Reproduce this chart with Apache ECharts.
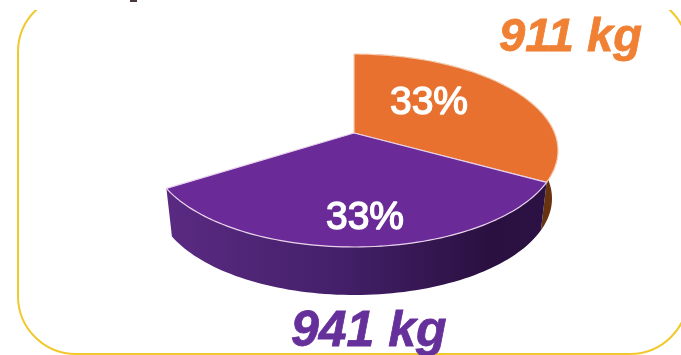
<!DOCTYPE html>
<html>
<head>
<meta charset="utf-8">
<style>html,body{margin:0;padding:0;background:#fff}#c{width:681px;height:355px}</style>
<script src="https://cdn.jsdelivr.net/npm/echarts@6/dist/echarts.min.js"></script>
</head>
<body>
<div id="c"></div>
<script>
const sliceNames = ['Orange', 'Purple', 'Hidden'];
const shares = [33, 33, 34];
const percentLabels = ['33%', '33%', ''];
const weightLabels = ['911 kg', '941 kg'];

const chart = echarts.init(document.getElementById('c'), null, { renderer: 'canvas' });
const total = shares.reduce((a, b) => a + b, 0);

// projected disc: ellipse seen in perspective, apex pushed toward the back
const disc = { cx: 354, cy: 150.5, rx: 204, ry: 96.5, k: 0.181, depth: 48, lowerRx: 198 };
const project = (deg, r, rx, dy) => {
  const t = deg * Math.PI / 180;
  const s = r * Math.sin(t), c = r * Math.cos(t);
  const d = 1 + disc.k * s;
  return [disc.cx + rx * c * Math.sqrt(1 - disc.k * disc.k) / d,
          disc.cy + dy - disc.ry * (s + disc.k) / d];
};
const sweep = (i) => {
  let before = 0;
  for (let j = 0; j < i; j++) before += shares[j];
  const a0 = 90 - before / total * 360;
  return [a0, a0 - shares[i] / total * 360];
};
const arc = (a0, a1, rx, dy) => {
  const pts = [];
  const n = 80;
  for (let i = 0; i <= n; i++) pts.push(project(a0 + (a1 - a0) * i / n, 1, rx, dy));
  return pts;
};

const faceStyles = [
  { fill: '#e8712f', stroke: '#f6cfb4' },
  { fill: '#6a2b98', stroke: '#e9d3ec' }
];
const wallFills = [
  { type: 'linear', x: 0, y: 0, x2: 1, y2: 0, colorStops: [{ offset: 0, color: '#4a2208' }, { offset: 1, color: '#6a3410' }] },
  { type: 'linear', x: 0, y: 0, x2: 1, y2: 0, colorStops: [
    { offset: 0, color: '#5a2a82' }, { offset: 0.45, color: '#44206a' }, { offset: 0.85, color: '#2a1040' }, { offset: 1, color: '#2c1244' }] }
];
const labelSpots = [[429, 103], [365, 218]];

const data = shares.map((v, i) => ({ name: sliceNames[i], value: [i, v] }));

const option = {
  animation: false,
  backgroundColor: '#fff',
  graphic: [
    { type: 'rect', z: 1, shape: { x: 18, y: -6, width: 670, height: 360, r: 58 },
      style: { fill: '#fff', stroke: '#f0c92e', lineWidth: 2 } },
    { type: 'rect', z: 2, shape: { x: 0, y: 0, width: 681, height: 10 }, style: { fill: '#fff' } },
    { type: 'rect', z: 3, shape: { x: 130, y: 0, width: 7, height: 2 }, style: { fill: '#4a3a3a' } },
    { type: 'text', z: 20, style: { text: weightLabels[0], x: 499, y: 15, fill: '#f08033',
        stroke: '#f08033', lineWidth: 0.8, font: 'italic bold 47px "Liberation Sans", Arial, sans-serif' } },
    { type: 'text', z: 20, style: { text: weightLabels[1], x: 291, y: 307, fill: '#65309a',
        stroke: '#65309a', lineWidth: 0.8, font: 'italic bold 50px "Liberation Sans", Arial, sans-serif' } }
  ],
  series: [
    {
      type: 'custom', coordinateSystem: 'none', z: 5, silent: true, data,
      renderItem(params, api) {
        const i = api.value(0);
        if (!wallFills[i]) return null;
        const [a0, a1] = sweep(i);
        const upper = arc(a0, a1, disc.rx, 0);
        const lower = arc(a0, a1, disc.lowerRx, disc.depth).reverse();
        return { type: 'polygon', shape: { points: upper.concat(lower) }, style: { fill: wallFills[i] } };
      }
    },
    {
      type: 'custom', coordinateSystem: 'none', z: 6, silent: true, data,
      renderItem(params, api) {
        const i = api.value(0);
        if (!faceStyles[i]) return null;
        const [a0, a1] = sweep(i);
        const pts = [project(0, 0, disc.rx, 0)].concat(arc(a0, a1, disc.rx, 0));
        return {
          type: 'group',
          children: [
            { type: 'polygon', shape: { points: pts },
              style: { fill: faceStyles[i].fill, stroke: faceStyles[i].stroke, lineWidth: 1.2, lineJoin: 'round' } },
            { type: 'text', z2: 10, style: {
                text: percentLabels[i], x: labelSpots[i][0], y: labelSpots[i][1],
                align: 'center', verticalAlign: 'middle', fill: '#fff',
                font: '39px "Liberation Sans", Arial, sans-serif',
                stroke: '#fff', lineWidth: 1.4 } }
          ]
        };
      }
    }
  ]
};
chart.setOption(option);
</script>
</body>
</html>
